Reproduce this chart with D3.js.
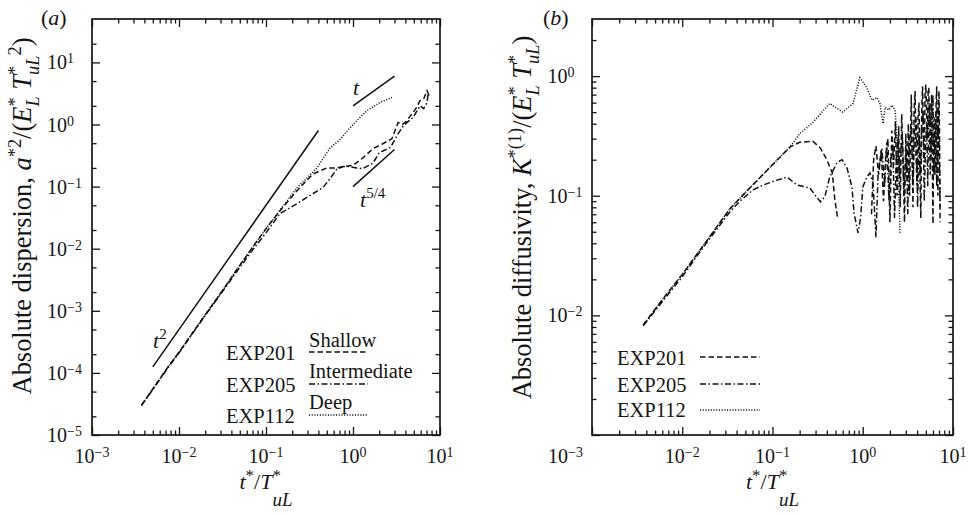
<!DOCTYPE html>
<html><head><meta charset="utf-8">
<script src="https://cdn.jsdelivr.net/npm/d3@7"></script>
<style>
body{margin:0;background:#fff}
svg{display:block}
</style>
</head><body>
<svg id="c" width="969" height="515"></svg>
<script>
// ---------------- DATA ----------------
// Panel (a): absolute dispersion vs t*/T*_uL
const tA201 = [0.0037,0.005,0.0075,0.01,0.02,0.03,0.05,0.07,0.1,0.145,0.227,0.347,0.5,0.65,0.77,1.0,1.3,1.7,2.2,2.8,3.3,3.7,4.2,4.6,4.9,5.4,5.9,6.5,7.1,7.5];
const yA201 = [3.0e-5,5.5e-5,1.25e-4,2.15e-4,8.6e-4,1.9e-3,5.4e-3,1.05e-2,2.1e-2,4.1e-2,8.6e-2,0.16,0.20,0.20,0.21,0.22,0.29,0.41,0.49,0.59,1.08,1.0,1.16,1.4,1.56,1.9,2.44,2.6,3.5,2.9];
const tA205 = [0.0037,0.005,0.0075,0.01,0.02,0.03,0.05,0.07,0.1,0.145,0.227,0.32,0.45,0.545,0.65,0.77,0.9,1.1,1.3,1.7,2.0,2.7,3.2,3.8,4.9,5.9,6.5,7.1,7.3];
const yA205 = [3.0e-5,5.4e-5,1.22e-4,2.1e-4,8.4e-4,1.85e-3,5.0e-3,9.5e-3,1.8e-2,3.7e-2,5.3e-2,7.2e-2,9.6e-2,0.135,0.19,0.21,0.21,0.2,0.195,0.24,0.35,0.43,0.66,0.96,1.3,2.0,1.8,2.26,3.2];
const tA112 = [0.0037,0.005,0.0075,0.01,0.02,0.03,0.05,0.07,0.1,0.145,0.227,0.30,0.385,0.545,0.725,0.9,1.11,1.45,2.04,2.5,2.8];
const yA112 = [3.0e-5,5.5e-5,1.25e-4,2.15e-4,8.6e-4,1.9e-3,5.4e-3,1.05e-2,2.1e-2,4.2e-2,9.6e-2,0.14,0.2,0.42,0.59,0.85,1.16,1.68,2.26,2.55,2.72];
// reference slopes (a)
const refT2  = {t:[0.005,0.4], y:[1.25e-4,0.8]};
const refT1  = {t:[1,3],       y:[2,6]};
const refT54 = {t:[1,3],       y:[0.1,0.395]};

// Panel (b): absolute diffusivity (null = not plotted on log axis)
const tB201 = [0.0037,0.006,0.01,0.0157,0.0338,0.056,0.094,0.156,0.20,0.28,0.34,0.40,0.46,0.49,0.53,0.60,1.2,
  1.25,1.32,1.40,1.5,1.6,1.7,1.8,1.9,2.0,2.1,2.2,2.3,2.4,2.5,2.6,2.7,2.8,2.9,3.0,3.1,3.2,3.3,3.45,3.6,3.7,3.8,3.9,4.0,
  4.1,4.2,4.3,4.4,4.5,4.6,4.7,4.8,4.9,5.0,5.1,5.2,5.3,5.4,5.5,5.6,5.7,5.8,5.9,6.0,6.1,6.2,6.3,6.4,6.5,6.6,6.7,6.8,6.9,7.0,7.1,7.2];
const kB201 = [0.0083,0.0135,0.022,0.035,0.078,0.116,0.173,0.255,0.28,0.285,0.25,0.20,0.155,0.093,0.063,null,null,
  0.07,0.2,0.26,0.15,0.24,0.09,0.22,0.3,0.06,0.35,0.18,0.42,0.1,0.38,0.08,0.48,0.2,0.06,0.33,0.13,0.4,0.1,0.7,0.08,0.5,0.75,0.2,0.12,
  0.45,0.6,0.15,0.065,0.5,0.82,0.35,0.2,0.7,0.85,0.5,0.3,0.75,0.8,0.3,0.15,0.5,0.7,0.2,0.058,0.3,0.45,0.15,0.2,0.6,0.82,0.3,0.1,0.5,0.75,0.3,0.06];
const tB205 = [0.0037,0.006,0.01,0.0157,0.034,0.045,0.061,0.079,0.112,0.145,0.187,0.26,0.30,0.34,0.38,0.43,0.52,0.59,0.67,0.76,0.80,0.885,0.95,1.0,1.11,1.2,1.3,1.4,1.48,1.63,1.75,1.85,1.95,2.05,2.15,2.25,2.35,2.45,2.55,2.65,2.75,2.85,2.95,3.05,3.15,3.3,3.45,3.6,3.75,3.9,4.05,4.2,4.35,4.5,4.65,4.8,4.95,5.1,5.25,5.4,5.55,5.7,5.85,6.0,6.15,6.3,6.45,6.6,6.75,6.9,7.05,7.2];
const kB205 = [0.0082,0.013,0.021,0.034,0.074,0.092,0.112,0.123,0.135,0.143,0.123,0.116,0.10,0.089,0.098,0.143,0.19,0.20,0.17,0.118,0.072,0.049,0.067,0.118,0.143,0.155,0.128,0.045,0.155,0.25,0.12,0.28,0.09,0.22,0.27,0.065,0.2,0.3,0.14,0.25,0.31,0.1,0.18,0.25,0.07,0.3,0.38,0.12,0.35,0.45,0.08,0.33,0.15,0.4,0.5,0.09,0.25,0.4,0.12,0.45,0.6,0.2,0.35,0.7,0.15,0.3,0.5,0.12,0.4,0.55,0.2,0.08];
const tB112 = [0.0037,0.006,0.01,0.0157,0.0338,0.056,0.094,0.156,0.20,0.28,0.43,0.60,0.78,0.93,1.11,1.26,1.44,1.55,1.68,1.77,1.95,2.11,2.28,2.40,2.59];
const kB112 = [0.0083,0.0135,0.022,0.035,0.078,0.116,0.173,0.255,0.33,0.41,0.59,0.50,0.59,0.97,0.80,0.63,0.66,0.59,0.40,0.55,0.52,0.57,0.52,0.29,0.049];

const xTickExp = [-3,-2,-1,0,1];
const yTickExpA = [-5,-4,-3,-2,-1,0,1];
const yTickExpB = [-2,-1,0];
const legendNames = ["EXP201","EXP205","EXP112"];
const legendDepth = ["Shallow","Intermediate","Deep"];

// ---------------- STYLE ----------------
const FONT = "'Liberation Serif', 'Times New Roman', Times, 'DejaVu Serif', 'Noto Serif', serif";
const INK = "#151515";
const dashes = ["5.5,3", "6,2.5,1.5,2.5", "1.1,1.6"];
const boxA = {x0:92, x1:440, y0:19, y1:435};
const boxB = {x0:592, x1:953, y0:19, y1:435};

const svg = d3.select("#c").attr("font-family", FONT).style("font-family", FONT);

const xA = d3.scaleLog().domain([1e-3,10]).range([boxA.x0, boxA.x1]);
const yA = d3.scaleLog().domain([1e-5,50]).range([boxA.y1, boxA.y0]);
const xB = d3.scaleLog().domain([1e-3,10]).range([boxB.x0, boxB.x1]);
const yB = d3.scaleLog().domain([1e-3,3]).range([boxB.y1, boxB.y0]);

const isMajor = v => Math.abs(Math.log10(v) - Math.round(Math.log10(v))) < 1e-6;
const mant = v => Math.round(v / Math.pow(10, Math.floor(Math.log10(v) + 1e-9)));

function T(x, y, size) {
  return svg.append("text").attr("x", x).attr("y", y).attr("font-size", size)
    .attr("font-family", FONT).attr("fill", INK);
}

function drawAxes(x, y, box, keepYMinor) {
  const g = svg.append("g");
  const xt = x.ticks();
  const xMaj = xt.filter(isMajor), xMin = xt.filter(v => !isMajor(v));
  const yt = y.ticks();
  const yMaj = yt.filter(isMajor);
  const yMin = yt.filter(v => !isMajor(v) && keepYMinor(mant(v)) && y(v) > box.y0 + 1);
  const mk = (fn, sc, vals, size, tr) => g.append("g").attr("transform", tr)
    .call(fn(sc).tickValues(vals).tickSizeInner(-size).tickSizeOuter(0).tickFormat(""))
    .call(s => s.select(".domain").remove())
    .call(s => s.selectAll("line").attr("stroke", INK).attr("stroke-width", 1.3));
  [[xMaj,8],[xMin,4.5]].forEach(([v,s]) => {
    mk(d3.axisBottom, x, v, s, `translate(0,${box.y1})`);
    mk(d3.axisTop, x, v, s, `translate(0,${box.y0})`);
  });
  [[yMaj,8],[yMin,4.5]].forEach(([v,s]) => {
    mk(d3.axisLeft, y, v, s, `translate(${box.x0},0)`);
    mk(d3.axisRight, y, v, s, `translate(${box.x1},0)`);
  });
  g.append("rect").attr("x", box.x0).attr("y", box.y0)
    .attr("width", box.x1 - box.x0).attr("height", box.y1 - box.y0)
    .attr("fill", "none").attr("stroke", INK).attr("stroke-width", 1.7);
}

function pow10(x, yy, e, anchor) {
  const t = T(x, yy, 20).attr("text-anchor", anchor);
  t.append("tspan").text("10");
  t.append("tspan").attr("dy", -6).attr("font-size", 14)
    .text(e < 0 ? "\u2212" + (-e) : String(e));
}

function rich(t, parts, o) {
  let cur = 0, prev = null;
  parts.forEach(p => {
    const ts = t.append("tspan").text(p.t);
    const target = p.sup ? -o.sup : p.sub ? o.sub : 0;
    const dy = target - cur; cur = target;
    if (dy) ts.attr("dy", dy);
    if (p.sup) ts.attr("font-size", o.supSize);
    if (p.sub) ts.attr("font-size", o.subSize);
    if (p.i) ts.attr("font-style", "italic");
    if (p.stack && prev) ts.attr("dx", -prev.node().getComputedTextLength());
    prev = ts;
  });
}

function curve(g, x, y, ts, vs, dash) {
  const pts = ts.map((t, i) => [t, vs[i]]);
  g.append("path").datum(pts)
    .attr("d", d3.line().defined(d => d[1] != null).x(d => x(d[0])).y(d => y(d[1])))
    .attr("fill", "none").attr("stroke", "#111").attr("stroke-width", 1.5)
    .attr("stroke-dasharray", dash);
}

// clip paths
const defs = svg.append("defs");
[["clipA", boxA], ["clipB", boxB]].forEach(([id, b]) =>
  defs.append("clipPath").attr("id", id).append("rect")
    .attr("x", b.x0).attr("y", b.y0).attr("width", b.x1 - b.x0).attr("height", b.y1 - b.y0));

// ---------------- PANEL A ----------------
drawAxes(xA, yA, boxA, m => m === 2 || m === 5);
xTickExp.forEach(e => pow10(xA(Math.pow(10, e)), 463, e, "middle"));
yTickExpA.forEach(e => pow10(47, yA(Math.pow(10, e)) + 7, e, "start"));

const gA = svg.append("g").attr("clip-path", "url(#clipA)");
curve(gA, xA, yA, tA201, yA201, dashes[0]);
curve(gA, xA, yA, tA205, yA205, dashes[1]);
curve(gA, xA, yA, tA112, yA112, dashes[2]);
[refT2, refT1, refT54].forEach(r => curve(gA, xA, yA, r.t, r.y, null));

function slopeLabel(x, yy, sup) {
  const t = T(x, yy, 22);
  t.append("tspan").attr("font-style", "italic").text("t");
  if (sup) t.append("tspan").attr("dy", -9).attr("font-size", 15).text(sup);
}
slopeLabel(353, 95, null);
slopeLabel(360, 207, "5/4");
slopeLabel(153, 348, "2");

const legA = {x: 226, lx0: 309, lx1: 368, base: [360, 392, 423], depthBase: [347, 378, 409], line: [352, 384, 415]};
legendNames.forEach((n, i) => {
  T(legA.x, legA.base[i], 20.5).text(n);
  T(legA.lx0, legA.depthBase[i], 20.5).text(legendDepth[i]);
  svg.append("line").attr("x1", legA.lx0).attr("x2", legA.lx1).attr("y1", legA.line[i]).attr("y2", legA.line[i])
    .attr("stroke", "#111").attr("stroke-width", 1.5).attr("stroke-dasharray", dashes[i]);
});

// ---------------- PANEL B ----------------
drawAxes(xB, yB, boxB, m => true);
xTickExp.forEach((e, i) => {
  if (i === 0) pow10(548, 463, e, "start");
  else pow10(xB(Math.pow(10, e)), 463, e, "middle");
});
yTickExpB.forEach(e => pow10(547.5, yB(Math.pow(10, e)) + 7, e, "start"));

const gB = svg.append("g").attr("clip-path", "url(#clipB)");
curve(gB, xB, yB, tB201, kB201, dashes[0]);
curve(gB, xB, yB, tB205, kB205, dashes[1]);
curve(gB, xB, yB, tB112, kB112, dashes[2]);

const legB = {x: 617, lx0: 700, lx1: 760, base: [365, 392, 417], line: [357, 384, 410]};
legendNames.forEach((n, i) => {
  T(legB.x, legB.base[i], 20.5).text(n);
  svg.append("line").attr("x1", legB.lx0).attr("x2", legB.lx1).attr("y1", legB.line[i]).attr("y2", legB.line[i])
    .attr("stroke", "#111").attr("stroke-width", 1.5).attr("stroke-dasharray", dashes[i]);
});

// ---------------- TITLES ----------------
function panelLetter(x, letter) {
  const t = T(x, 25, 22);
  t.append("tspan").text("(");
  t.append("tspan").attr("font-style", "italic").text(letter);
  t.append("tspan").text(")");
}
panelLetter(41, "a");
panelLetter(543, "b");

function xTitle(cx) {
  const t = T(cx, 489, 22).attr("text-anchor", "middle");
  rich(t, [{t:"t",i:1},{t:"*",sup:1},{t:"/"},{t:"T",i:1},{t:"*",sup:1},{t:"uL",i:1,sub:1,stack:1}],
    {sup: 8, sub: 17, supSize: 17, subSize: 19});
}
xTitle((boxA.x0 + boxA.x1) / 2);
xTitle((boxB.x0 + boxB.x1) / 2);

function yTitle(bx, cy, len, parts) {
  const g = svg.append("g");
  const t = g.append("text").attr("font-size", 23).attr("text-anchor", "middle")
    .attr("font-family", FONT).attr("fill", INK);
  rich(t, parts, {sup: 9, sub: 7, supSize: 16, subSize: 16});
  const w = t.node().getBBox().width;
  const k = Math.max(0.85, Math.min(1.15, len / w));
  g.attr("transform", `translate(${bx},${cy}) rotate(-90) scale(${k})`);
}
yTitle(31, 216, 372, [{t:"Absolute dispersion, "},{t:"a",i:1},{t:"*2",sup:1},{t:"/("},{t:"E",i:1},{t:"*",sup:1},{t:"L",i:1,sub:1,stack:1},{t:" "},{t:"T",i:1},{t:"*",sup:1},{t:"uL",i:1,sub:1,stack:1},{t:"2",sup:1},{t:")"}]);
yTitle(531, 217.5, 379, [{t:"Absolute diffusivity, "},{t:"K",i:1},{t:"*(1)",sup:1},{t:"/("},{t:"E",i:1},{t:"*",sup:1},{t:"L",i:1,sub:1,stack:1},{t:" "},{t:"T",i:1},{t:"*",sup:1},{t:"uL",i:1,sub:1,stack:1},{t:")"}]);
</script>
</body></html>
